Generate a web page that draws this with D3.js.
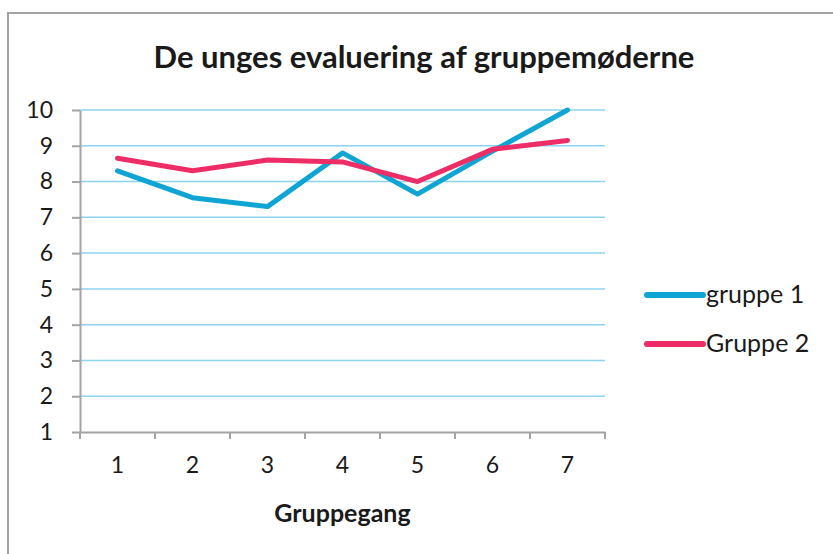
<!DOCTYPE html>
<html>
<head>
<meta charset="utf-8">
<script src="https://cdn.jsdelivr.net/npm/d3@7"></script>
<style>
  body { margin: 0; background: #fff; }
  svg { display: block; }
  text { font-family: Lato, "Open Sans", sans-serif; fill: #1a1a1a; }
</style>
</head>
<body>
<div id="vis"></div>
<script>
// chart values
var categories = ["1", "2", "3", "4", "5", "6", "7"];
var gruppe1 = [8.3, 7.55, 7.3, 8.8, 7.65, 8.85, 10];
var gruppe2 = [8.65, 8.3, 8.6, 8.55, 8.0, 8.9, 9.15];
var seriesNames = ["gruppe 1", "Gruppe 2"];
var yTicks = [1, 2, 3, 4, 5, 6, 7, 8, 9, 10];

var w = 833, h = 554;
var colors = ["#0ea5d4", "#ee2c66"];

var svg = d3.select("#vis").append("svg")
    .attr("width", w)
    .attr("height", h);

// chart frame (right and bottom edges run off the picture)
svg.append("path")
    .attr("d", "M8,560 L8,13 L840,13")
    .attr("fill", "none")
    .attr("stroke", "#a3a3a3")
    .attr("stroke-width", 2);

// title
svg.append("text")
    .attr("x", 424)
    .attr("y", 68)
    .attr("text-anchor", "middle")
    .attr("font-size", "31px")
    .attr("font-weight", "bold")
    .text("De unges evaluering af gruppemøderne");

var plotL = 80, plotR = 605, plotT = 110, plotB = 432;

var xScale = d3.scaleBand()
    .domain(categories)
    .range([plotL, plotR]);

var yScale = d3.scaleLinear()
    .domain([1, 10])
    .range([plotB, plotT]);

// gridlines
svg.append("g")
    .selectAll("line")
    .data(yTicks.slice(1))
    .enter()
    .append("line")
    .attr("x1", plotL)
    .attr("x2", plotR)
    .attr("y1", function(d) { return yScale(d); })
    .attr("y2", function(d) { return yScale(d); })
    .attr("stroke", "#8dd3f0")
    .attr("stroke-width", 1.5);

// y axis
var yAxis = svg.append("g")
    .attr("transform", "translate(" + plotL + ",0)")
    .call(d3.axisLeft(yScale).tickValues(yTicks).tickSize(8).tickPadding(19).tickSizeOuter(0).tickFormat(d3.format("d")));
yAxis.select(".domain").attr("stroke", "#a3a3a3").attr("stroke-width", 2);
yAxis.selectAll(".tick line").attr("stroke", "#a3a3a3").attr("stroke-width", 2);
yAxis.selectAll(".tick text")
    .attr("font-size", "23px")
    .attr("font-family", "Lato, 'Open Sans', sans-serif")
    .attr("fill", "#1a1a1a");

// x axis
var xAxis = svg.append("g")
    .attr("transform", "translate(0," + plotB + ")")
    .call(d3.axisBottom(xScale).tickSize(0).tickPadding(25).tickSizeOuter(0));
xAxis.select(".domain").attr("stroke", "#a3a3a3").attr("stroke-width", 2);
xAxis.selectAll(".tick text")
    .attr("font-size", "23px")
    .attr("font-family", "Lato, 'Open Sans', sans-serif")
    .attr("fill", "#1a1a1a");

// x ticks between categories
var bounds = categories.map(function(c) { return xScale(c); }).concat([plotR]);
svg.append("g")
    .selectAll("line")
    .data(bounds)
    .enter()
    .append("line")
    .attr("x1", function(d) { return d; })
    .attr("x2", function(d) { return d; })
    .attr("y1", plotB)
    .attr("y2", plotB + 7)
    .attr("stroke", "#a3a3a3")
    .attr("stroke-width", 2);

svg.append("text")
    .attr("x", (plotL + plotR) / 2)
    .attr("y", 522)
    .attr("text-anchor", "middle")
    .attr("font-size", "25px")
    .attr("font-weight", "bold")
    .text("Gruppegang");

// lines
var line = d3.line()
    .x(function(d, i) { return xScale(categories[i]) + xScale.bandwidth() / 2; })
    .y(function(d) { return yScale(d); });

[gruppe1, gruppe2].forEach(function(s, i) {
    svg.append("path")
        .datum(s)
        .attr("d", line)
        .attr("fill", "none")
        .attr("stroke", colors[i])
        .attr("stroke-width", 5)
        .attr("stroke-linejoin", "round")
        .attr("stroke-linecap", "round");
});

// legend
var legend = svg.append("g")
    .selectAll("g")
    .data(seriesNames)
    .enter()
    .append("g")
    .attr("transform", function(d, i) { return "translate(647," + (295 + i * 49) + ")"; });

legend.append("line")
    .attr("x1", 0)
    .attr("x2", 56)
    .attr("stroke", function(d, i) { return colors[i]; })
    .attr("stroke-width", 6)
    .attr("stroke-linecap", "round");

legend.append("text")
    .attr("x", 59)
    .attr("y", 8)
    .attr("font-size", "25px")
    .text(function(d) { return d; });
</script>
</body>
</html>
